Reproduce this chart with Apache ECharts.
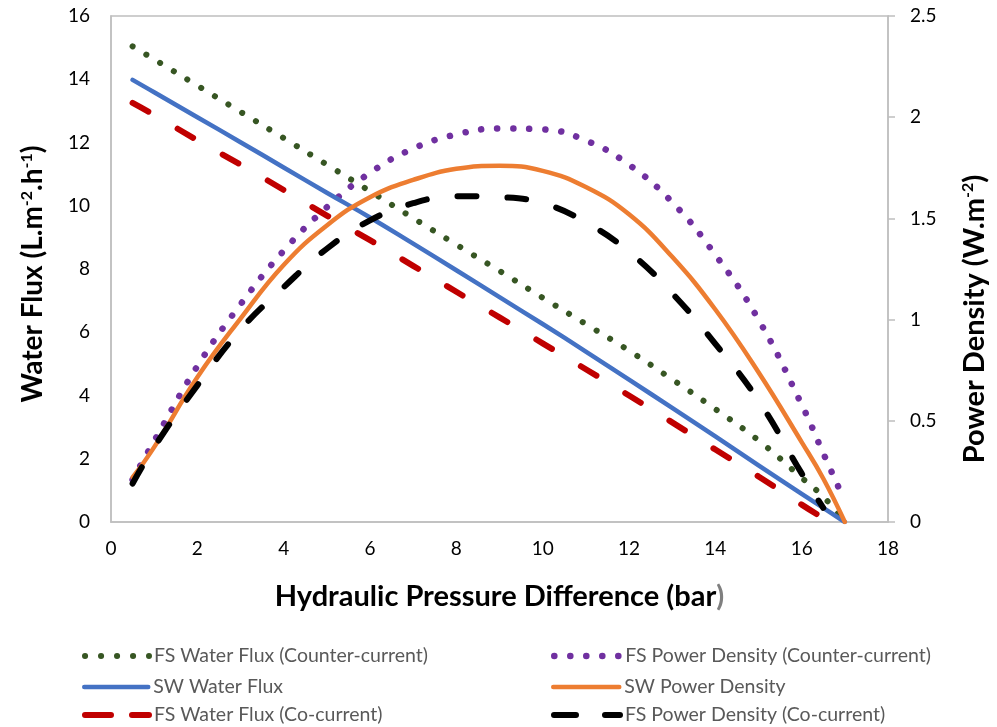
<!DOCTYPE html>
<html>
<head>
<meta charset="utf-8">
<script src="https://cdn.jsdelivr.net/npm/echarts@6/dist/echarts.min.js"></script>
<style>
  html, body { margin: 0; padding: 0; background: #fff; overflow: hidden; }
  #chart { width: 997px; height: 727px; }
</style>
</head>
<body>
<div id="chart"></div>
<script>
// Hydraulic pressure difference (bar)
const pressure = [0.5, 1, 2, 3, 4, 5, 6, 7, 8, 9, 10, 11, 12, 13, 14, 15, 16, 16.5, 17];
// The counter-current power density curve stops just short of 17 bar
const pressureCounterPD = [0.5, 1, 2, 3, 4, 5, 6, 7, 8, 9, 10, 11, 12, 13, 14, 15, 16, 16.5, 16.9];

// Water flux (L.m-2.h-1)
const fsFluxCounter = [15.04, 14.63, 13.80, 12.97, 12.14, 11.30, 10.46, 9.61, 8.77, 7.94, 7.09, 6.26, 5.42, 4.51, 3.57, 2.58, 1.40, 0.80, 0];
const swFlux = [13.98, 13.59, 12.80, 12.01, 11.21, 10.41, 9.63, 8.80, 7.96, 7.11, 6.26, 5.39, 4.50, 3.61, 2.71, 1.79, 0.89, 0.45, 0];
const fsFluxCo = [13.25, 12.87, 12.07, 11.30, 10.50, 9.69, 8.91, 8.10, 7.28, 6.47, 5.65, 4.83, 4.00, 3.15, 2.29, 1.44, 0.55, 0.12, null];

// Power density (W.m-2)
const fsPowerCounter = [0.21, 0.40, 0.77, 1.075, 1.34, 1.555, 1.725, 1.845, 1.915, 1.944, 1.94, 1.885, 1.765, 1.58, 1.32, 1.00, 0.58, 0.34, 0.15];
const swPower = [0.22, 0.37, 0.715, 1.005, 1.27, 1.465, 1.605, 1.69, 1.745, 1.76, 1.735, 1.655, 1.52, 1.31, 1.05, 0.74, 0.395, 0.215, 0];
const fsPowerCo = [0.19, 0.37, 0.675, 0.95, 1.16, 1.35, 1.49, 1.575, 1.61, 1.605, 1.575, 1.48, 1.335, 1.13, 0.88, 0.60, 0.24, 0.07, null];

const seriesNames = [
  'FS Water Flux (Counter-current)',
  'FS Power Density (Counter-current)',
  'SW Water Flux',
  'SW Power Density',
  'FS Water Flux (Co-current)',
  'FS Power Density (Co-current)'
];

const FONT = 'Lato, "Open Sans", sans-serif';
const AXIS_GRAY = '#bfbfbf';

function pairs(xs, ys) {
  return xs.map((x, i) => [x, ys[i]]);
}

function lineSeries(name, xs, ys, yAxisIndex, color, width, dash) {
  return {
    name: name,
    type: 'line',
    yAxisIndex: yAxisIndex,
    data: pairs(xs, ys),
    smooth: 0.45,
    symbol: 'none',
    connectNulls: false,
    lineStyle: { color: color, width: width, type: dash || 'solid', cap: 'round', join: 'round' },
    itemStyle: { color: color },
    emphasis: { disabled: true },
    animation: false
  };
}

const series = [
  lineSeries(seriesNames[0], pressure, fsFluxCounter, 0, '#375623', 6, [0.1, 15.9]),
  lineSeries(seriesNames[1], pressureCounterPD, fsPowerCounter, 1, '#7030a0', 6.5, [0.1, 15.9]),
  lineSeries(seriesNames[2], pressure, swFlux, 0, '#4472c4', 4.5),
  lineSeries(seriesNames[3], pressure, swPower, 1, '#ed7d31', 4.5),
  lineSeries(seriesNames[4], pressure, fsFluxCo, 0, '#c00000', 6, [18, 34]),
  lineSeries(seriesNames[5], pressure, fsPowerCo, 1, '#000000', 6, [19, 31])
];

// One legend block per entry, laid out in two columns below the plot
function legendItem(name, left, top, width, lineStyle) {
  return {
    data: [name],
    left: left,
    top: top,
    padding: 0,
    itemWidth: width,
    itemHeight: 14,
    itemGap: 0,
    selectedMode: false,
    itemStyle: { opacity: 0 },
    lineStyle: lineStyle,
    textStyle: { fontFamily: FONT, fontSize: 19.5, color: '#595959', lineHeight: 20 }
  };
}

const legends = [
  legendItem(seriesNames[0], 82, 646, 64, { width: 6, type: [0.1, 15.9], cap: 'round' }),
  legendItem(seriesNames[1], 551, 646, 66, { width: 6.5, type: [0.1, 15.9], cap: 'round' }),
  legendItem(seriesNames[2], 82, 677, 64, { width: 4.5, type: 'solid', cap: 'round' }),
  legendItem(seriesNames[3], 551, 677, 66, { width: 4.5, type: 'solid', cap: 'round' }),
  legendItem(seriesNames[4], 82, 705, 64, { width: 6, type: [26, 21], cap: 'round' }),
  legendItem(seriesNames[5], 551, 705, 66, { width: 6, type: [22, 29], cap: 'round' })
];

const tickLabel = { fontFamily: FONT, fontSize: 19, color: '#000' };
const titleStyle = { fontFamily: FONT, fontSize: 29, fontWeight: 'bold', color: '#000' };
const supStyle = { fontFamily: FONT, fontSize: 16, fontWeight: 'bold', color: '#000', verticalAlign: 'top', lineHeight: 16 };

const chart = echarts.init(document.getElementById('chart'), null, { renderer: 'canvas' });
chart.setOption({
  backgroundColor: '#fff',
  animation: false,
  grid: {
    left: 111, right: 104, top: 16, bottom: 205,
    show: true, borderColor: AXIS_GRAY, borderWidth: 1.5, containLabel: false
  },
  legend: legends,
  xAxis: {
    type: 'value',
    min: 0, max: 18, interval: 2,
    name: 'Hydraulic Pressure Difference (bar{g|)}',
    nameLocation: 'middle',
    nameGap: 60,
    nameTextStyle: Object.assign({}, titleStyle, {
      rich: { g: Object.assign({}, titleStyle, { color: '#7f7f7f' }) }
    }),
    axisLine: { show: true, lineStyle: { color: AXIS_GRAY, width: 1.5 } },
    axisTick: { show: false },
    splitLine: { show: false },
    axisLabel: Object.assign({ margin: 17 }, tickLabel)
  },
  yAxis: [
    {
      type: 'value',
      position: 'left',
      min: 0, max: 16, interval: 2,
      name: 'Water Flux (L.m{s|-2}.h{s|-1})',
      nameLocation: 'middle',
      nameRotate: 90,
      nameGap: 64,
      nameTextStyle: Object.assign({}, titleStyle, { fontSize: 28, rich: { s: supStyle }, padding: [0, 10, 0, 0] }),
      axisLine: { show: true, lineStyle: { color: AXIS_GRAY, width: 1.5 } },
      axisTick: { show: false },
      splitLine: { show: false },
      axisLabel: Object.assign({ margin: 21 }, tickLabel)
    },
    {
      type: 'value',
      position: 'right',
      min: 0, max: 2.5, interval: 0.5,
      name: 'Power Density (W.m{s|-2})',
      nameLocation: 'middle',
      nameRotate: 90,
      nameGap: 72,
      nameTextStyle: Object.assign({}, titleStyle, { rich: { s: supStyle }, padding: [0, 100, 0, 0] }),
      axisLine: { show: true, lineStyle: { color: AXIS_GRAY, width: 1.5 } },
      axisTick: { show: true, inside: false, length: 7, lineStyle: { color: AXIS_GRAY, width: 1.5 } },
      splitLine: { show: false },
      axisLabel: Object.assign({ margin: 22 }, tickLabel)
    }
  ],
  series: series
});
</script>
</body>
</html>
